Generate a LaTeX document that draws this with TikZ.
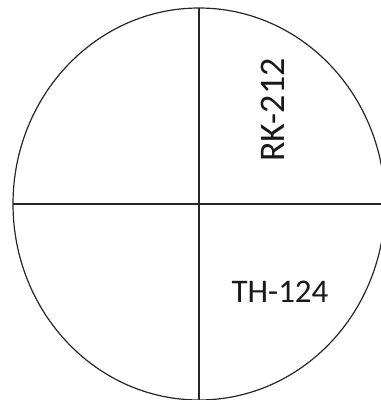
\documentclass[tikz,border=0pt]{standalone}
\usepackage{fontspec}
\setmainfont{Carlito}
\begin{document}
\begin{tikzpicture}[x=1pt,y=-1pt,line width=1.2pt,
		label/.style={font=\fontsize{33}{36}\selectfont,text=black!90}]
			% Bounding box
			\useasboundingbox (0,0) rectangle (381,400);
			\clip (0,0) rectangle (381,400);

			% Draw outline and axes
			\coordinate (top) at (199,8);
			\coordinate (bottom) at (199,400);
			\coordinate (left) at (13,204);
			\coordinate (right) at (381,204);
			\draw[black!85] (199,204) ellipse [x radius=186, y radius=196];
			\draw[black!85] (top) -- (bottom);
			\draw[black!85] (left) -- (right);

			% Label quadrants
			\node[label,rotate=90,font=\fontsize{36}{40}\selectfont] (rk) at (273,110) {RK-212};
			\node[label] (th) at (280,292) {TH-124};
		\end{tikzpicture}
\end{document}
